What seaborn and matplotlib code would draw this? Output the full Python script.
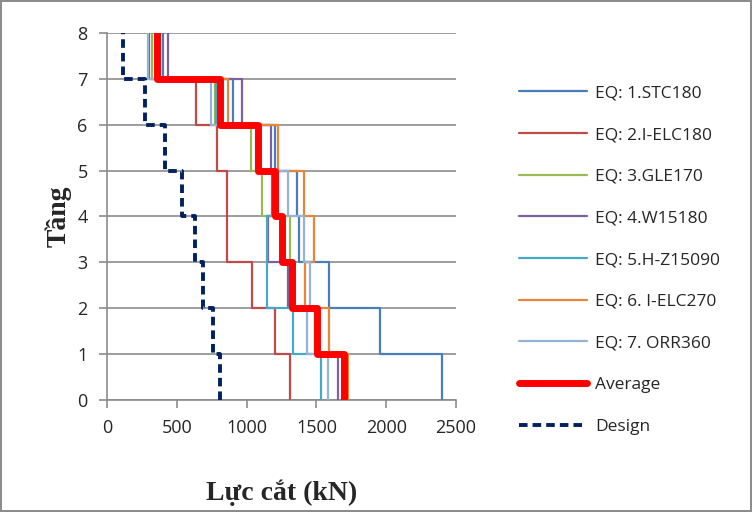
import numpy as np
import pandas as pd
import matplotlib
matplotlib.use("Agg")
import matplotlib.pyplot as plt
import seaborn as sns

# shear force per storey, from storey 0-1 up to 7-8 (kN)
stories = np.arange(0, 9)
eq1_stc180 = [2400, 1955, 1590, 1375, 1361, 1203, 902, 401]
eq2_ielc180 = [1311, 1203, 1039, 860, 860, 788, 637, 300]
eq3_gle170 = [1690, 1490, 1311, 1311, 1110, 1032, 774, 322]
eq4_w15180 = [1655, 1520, 1300, 1150, 1185, 1175, 967, 437]
eq5_hz15090 = [1533, 1332, 1146, 1146, 1195, 1080, 780, 370]
eq6_ielc270 = [1728, 1590, 1418, 1483, 1411, 1225, 867, 380]
eq7_orr360 = [1583, 1433, 1454, 1411, 1297, 1070, 745, 294]
average = [1700, 1504, 1325, 1254, 1203, 1082, 809, 358]
design = [809, 760, 690, 632, 537, 415, 272, 115]

labels = ["EQ: 1.STC180", "EQ: 2.I-ELC180", "EQ: 3.GLE170", "EQ: 4.W15180",
          "EQ: 5.H-Z15090", "EQ: 6. I-ELC270", "EQ: 7. ORR360", "Average", "Design"]
series = [eq1_stc180, eq2_ielc180, eq3_gle170, eq4_w15180, eq5_hz15090,
          eq6_ielc270, eq7_orr360, average, design]
colors = ["#4A7EBB", "#BE4B48", "#98B954", "#7D60A0", "#46AAC5", "#E8853A",
          "#95B3D7", "#FF0000", "#002060"]

sns.set_style("white")
plt.rcParams["font.family"] = ["Open Sans", "DejaVu Sans"]

fig = plt.figure(figsize=(7.52, 5.12), dpi=100)
fig.patch.set_edgecolor("#8C8C8C")
fig.patch.set_linewidth(1.5)
ax = fig.add_axes([0.1423, 0.2188, 0.4641, 0.7167])


def step_frame(vals):
    # vertical segment per storey, horizontal jump at each floor
    x = np.repeat(vals, 2)
    y = np.repeat(stories, 2)[1:-1]
    return pd.DataFrame({"x": x, "y": y})


for name, vals, col in zip(labels, series, colors):
    d = step_frame(vals)
    if name == "Average":
        sns.lineplot(data=d, x="x", y="y", sort=False, estimator=None, color=col,
                     lw=5, label=name, ax=ax, zorder=4)
    elif name == "Design":
        sns.lineplot(data=d, x="x", y="y", sort=False, estimator=None, color=col,
                     lw=2.8, dashes=(2.2, 1.3), label=name, ax=ax, zorder=5)
    else:
        sns.lineplot(data=d, x="x", y="y", sort=False, estimator=None, color=col,
                     lw=1.6, label=name, ax=ax, zorder=3)

ax.set_xlim(0, 2500)
ax.set_ylim(0, 8)
ax.set_xticks(range(0, 2501, 500))
ax.set_yticks(range(0, 9))
ax.yaxis.grid(True, color="#8C8C8C", lw=1.2)
ax.xaxis.grid(False)
ax.set_axisbelow(True)
for s in ["top", "right"]:
    ax.spines[s].set_visible(False)
for s in ["left", "bottom"]:
    ax.spines[s].set_color("#8C8C8C")
    ax.spines[s].set_linewidth(1.2)
ax.tick_params(axis="both", direction="out", length=6, width=1.2, color="#8C8C8C",
               labelsize=13, pad=8, left=True, bottom=True)

ax.set_xlabel("Lực cắt (kN)", family="Liberation Serif", fontweight="bold",
              fontsize=20, labelpad=30)
ax.set_ylabel("Tầng", family="Liberation Serif", fontweight="bold",
              fontsize=20, labelpad=4)

leg = ax.legend(loc="upper left", bbox_to_anchor=(1.137, 0.9), frameon=False,
                fontsize=12.5, handlelength=3.9, handletextpad=0.45, labelspacing=1.47)

fig.savefig("out.png", dpi=100, edgecolor=fig.get_edgecolor())
